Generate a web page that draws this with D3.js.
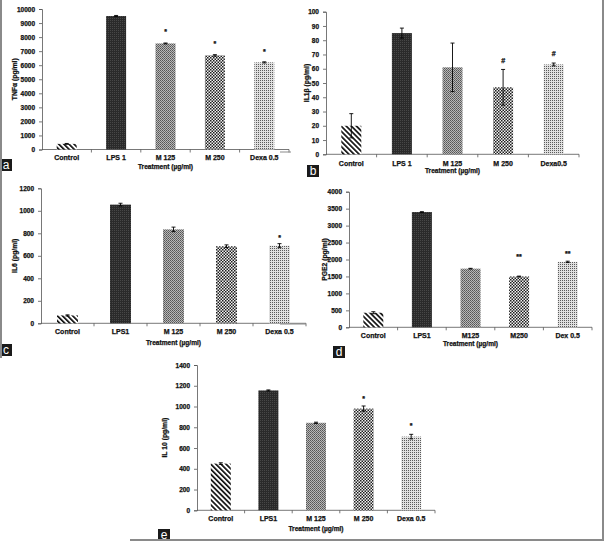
<!DOCTYPE html>
<html><head><meta charset="utf-8">
<script src="https://cdn.jsdelivr.net/npm/d3@7"></script>
<style>
html,body{margin:0;padding:0;background:#fff;}
svg{display:block;font-family:"Liberation Sans",Arial,sans-serif;}
</style></head>
<body>
<script>
// ---------- DATA ----------
const catsA = ["Control","LPS 1","M 125","M 250","Dexa 0.5"];
const valsA = [400, 9500, 7550, 6700, 6200];
const errsA = [30, 40, 30, 50, 40];
const sigA  = ["", "", "*", "*", "*"];
const sigPosA = [0, 0, 8400, 7600, 7000];
const ticksA = d3.range(0, 10001, 1000);

const catsB = ["Control","LPS 1","M 125","M 250","Dexa0.5"];
const valsB = [20, 85, 61, 47, 63];
const errsB = [8.5, 3.5, 17, 12.5, 1];
const sigB  = ["", "", "", "#", "#"];
const sigPosB = [0, 0, 0, 66, 71];
const ticksB = d3.range(0, 101, 10);

const catsC = ["Control","LPS1","M 125","M 250","Dexa 0.5"];
const valsC = [70, 1055, 835, 685, 690];
const errsC = [5, 12, 20, 12, 18];
const sigC  = ["", "", "", "", "*"];
const sigPosC = [0, 0, 0, 0, 765];
const ticksC = d3.range(0, 1201, 200);

const catsD = ["Control","LPS1","M125","M250","Dex 0.5"];
const valsD = [430, 3400, 1730, 1500, 1930];
const errsD = [30, 10, 10, 10, 20];
const sigD  = ["", "", "", "**", "**"];
const sigPosD = [0, 0, 0, 2100, 2180];
const ticksD = d3.range(0, 4001, 500);

const catsE = ["Control","LPS1","M 125","M 250","Dexa 0.5"];
const valsE = [450, 1155, 843, 980, 710];
const errsE = [8, 5, 6, 25, 22];
const sigE  = ["", "", "", "*", "*"];
const sigPosE = [0, 0, 0, 1085, 825];
const ticksE = d3.range(0, 1401, 200);

const xTitle = "Treatment (µg/ml)";

// ---------- LAYOUT ----------
const W = 605, H = 542;
const svg = d3.select("body").append("svg").attr("width", W).attr("height", H);
const defs = svg.append("defs");

// patterns
function pat(id, w, h, bg) {
  const p = defs.append("pattern").attr("id", id).attr("patternUnits", "userSpaceOnUse")
    .attr("width", w).attr("height", h);
  p.append("rect").attr("width", w).attr("height", h).attr("fill", bg);
  return p;
}
let p0 = pat("pHatch", 3.6, 3.6, "#fff").attr("patternTransform", "rotate(-45)");
p0.append("rect").attr("x", 0).attr("y", 0).attr("width", 1.7).attr("height", 3.6).attr("fill", "#111");
let p1 = pat("pDark", 2, 2, "#2a2a2a");
p1.append("rect").attr("x", 0).attr("y", 0).attr("width", 1).attr("height", 1).attr("fill", "#474747");
let p2 = pat("pMid", 2, 2, "#b8b8b8");
p2.append("rect").attr("x", 0).attr("y", 0).attr("width", 1).attr("height", 1).attr("fill", "#555");
p2.append("rect").attr("x", 1).attr("y", 1).attr("width", 1).attr("height", 1).attr("fill", "#6a6a6a");
let p3 = pat("pCheck", 3, 3, "#f2f2f2");
p3.append("rect").attr("x", 0).attr("y", 0).attr("width", 1.5).attr("height", 1.5).attr("fill", "#1e1e1e");
p3.append("rect").attr("x", 1.5).attr("y", 1.5).attr("width", 1.5).attr("height", 1.5).attr("fill", "#1e1e1e");
let p4 = pat("pLight", 2, 2, "#e0e0e0");
p4.append("rect").attr("x", 0).attr("y", 0).attr("width", 1).attr("height", 1).attr("fill", "#5a5a5a");
const fills = ["url(#pHatch)", "url(#pDark)", "url(#pMid)", "url(#pCheck)", "url(#pLight)"];

const panels = [
  {cats: catsA, vals: valsA, errs: errsA, sig: sigA, sigPos: sigPosA, ticks: ticksA, ylab: "TNFα (pg/ml)",
   x0: 42, x1: 289, yTop: 9, yBot: 149.5, barW: 20, catY: 157.5, titleY: 166.5, ylabX: 14, letter: "a", bx: 0, by: 159},
  {cats: catsB, vals: valsB, errs: errsB, sig: sigB, sigPos: sigPosB, ticks: ticksB, ylab: "IL1β (pg/ml)",
   x0: 326, x1: 579, yTop: 11.7, yBot: 154.3, barW: 20, catY: 163.5, titleY: 170, ylabX: 306, letter: "b", bx: 307, by: 165},
  {cats: catsC, vals: valsC, errs: errsC, sig: sigC, sigPos: sigPosC, ticks: ticksC, ylab: "IL6 (pg/ml)",
   x0: 41, x1: 306, yTop: 188.3, yBot: 323.3, barW: 21, catY: 331.5, titleY: 342.5, ylabX: 14, letter: "c", bx: 0, by: 344},
  {cats: catsD, vals: valsD, errs: errsD, sig: sigD, sigPos: sigPosD, ticks: ticksD, ylab: "PGE2 (pg/ml)",
   x0: 349, x1: 592, yTop: 191.7, yBot: 327.3, barW: 20, catY: 335.5, titleY: 343.5, ylabX: 324, letter: "d", bx: 333, by: 346},
  {cats: catsE, vals: valsE, errs: errsE, sig: sigE, sigPos: sigPosE, ticks: ticksE, ylab: "IL 10 (pg/ml)",
   x0: 197, x1: 435, yTop: 365, yBot: 510.3, barW: 20, catY: 518.5, titleY: 528.5, ylabX: 164, letter: "e", bx: 158, by: 529}
];

function boldText(sel) {
  return sel.attr("font-weight", "bold").attr("fill", "#111").attr("stroke", "#111").attr("stroke-width", 0.25);
}

panels.forEach(p => {
  const g = svg.append("g");
  const x = d3.scaleBand().domain(p.cats).range([p.x0, p.x1]).paddingInner(0).paddingOuter(0);
  const ymax = d3.max(p.ticks);
  const y = d3.scaleLinear().domain([0, ymax]).range([p.yBot, p.yTop]);

  // y axis
  const ya = g.append("g").attr("transform", `translate(${p.x0},0)`)
    .call(d3.axisLeft(y).tickValues(p.ticks).tickSize(3).tickPadding(4).tickFormat(d3.format("d")));
  ya.select(".domain").attr("stroke", "#555").attr("stroke-width", 0.8);
  ya.selectAll(".tick line").attr("stroke", "#555").attr("stroke-width", 0.8);
  boldText(ya.selectAll(".tick text")).attr("font-size", 6.5)
    .attr("font-family", "Liberation Sans, Arial, sans-serif");

  // x axis line with ticks at boundaries
  g.append("line").attr("x1", p.x0).attr("x2", p.x1).attr("y1", p.yBot).attr("y2", p.yBot)
    .attr("stroke", "#555").attr("stroke-width", 0.8);
  p.cats.forEach((c, i) => {
    const bx = x(c) + x.bandwidth();
    g.append("line").attr("x1", bx).attr("x2", bx).attr("y1", p.yBot).attr("y2", p.yBot + 3)
      .attr("stroke", "#555").attr("stroke-width", 0.8);
  });

  // bars
  g.selectAll("rect.bar").data(p.vals).enter().append("rect").attr("class", "bar")
    .attr("x", (d, i) => x(p.cats[i]) + (x.bandwidth() - p.barW) / 2)
    .attr("width", p.barW)
    .attr("y", d => y(d))
    .attr("height", d => p.yBot - y(d))
    .attr("fill", (d, i) => fills[i]);

  // error bars
  p.vals.forEach((v, i) => {
    const cx = x(p.cats[i]) + x.bandwidth() / 2;
    const e = p.errs[i];
    g.append("line").attr("x1", cx).attr("x2", cx).attr("y1", y(v + e)).attr("y2", y(v - e))
      .attr("stroke", "#000").attr("stroke-width", 0.9);
    [v + e, v - e].forEach(t => g.append("line").attr("x1", cx - 2).attr("x2", cx + 2)
      .attr("y1", y(t)).attr("y2", y(t)).attr("stroke", "#000").attr("stroke-width", 0.9));
    if (p.sig[i]) {
      boldText(g.append("text").attr("x", cx).attr("y", y(p.sigPos[i]) + 3).attr("text-anchor", "middle")
        .attr("font-size", 7)).text(p.sig[i]);
    }
  });

  // category labels
  p.cats.forEach(c => {
    boldText(g.append("text").attr("x", x(c) + x.bandwidth() / 2).attr("y", p.catY + 2.5)
      .attr("text-anchor", "middle").attr("font-size", 7)).text(c);
  });
  // x title
  boldText(g.append("text").attr("x", (p.x0 + p.x1) / 2).attr("y", p.titleY + 2.5).attr("text-anchor", "middle")
    .attr("font-size", 6.6)).text(xTitle);
  // y title
  boldText(g.append("text").attr("transform", `translate(${p.ylabX + 2.5},${(p.yTop + p.yBot) / 2}) rotate(-90)`)
    .attr("text-anchor", "middle").attr("font-size", 6.8)).text(p.ylab);
  // panel letter box
  g.append("rect").attr("x", p.bx).attr("y", p.by).attr("width", 12).attr("height", 12).attr("fill", "#1a1a1a");
  g.append("text").attr("x", p.bx + 6).attr("y", p.by + 9.8).attr("text-anchor", "middle")
    .attr("font-size", 12).attr("fill", "#fff").text(p.letter);
});

// frame lines
const frame = svg.append("g").attr("stroke", "#8a8a8a").attr("stroke-width", 2).attr("fill", "none");
frame.append("line").attr("x1", 1).attr("x2", 1).attr("y1", 0).attr("y2", 358);
frame.append("line").attr("x1", 603).attr("x2", 603).attr("y1", 0).attr("y2", 541);
frame.append("line").attr("x1", 130).attr("x2", 604).attr("y1", 540).attr("y2", 540);
frame.append("line").attr("x1", 280).attr("x2", 291).attr("y1", 152).attr("y2", 152).attr("stroke-width", 1);
frame.append("line").attr("x1", 280).attr("x2", 306).attr("y1", 324).attr("y2", 324).attr("stroke-width", 1);
</script>
</body></html>
